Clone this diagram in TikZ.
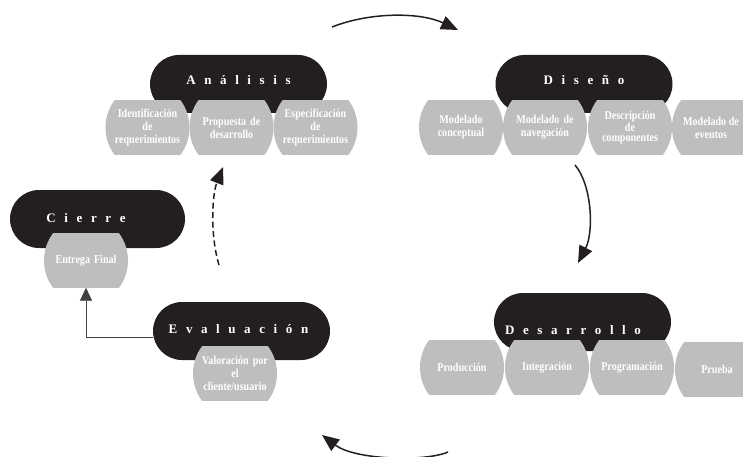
\documentclass[tikz,border=0pt]{standalone}
\usepackage{fontspec}
\setmainfont{Liberation Serif}
\newfontfamily\condfont{Liberation Serif}[FakeStretch=0.84]
\usetikzlibrary{arrows.meta}
\definecolor{ink}{RGB}{35,31,32}
\definecolor{pill}{RGB}{190,190,190}
\newcommand{\gp}{\hspace{8.6pt}}
\begin{document}
\begin{tikzpicture}[x=1pt,y=-1pt,
  phase/.style={fill=ink, rounded corners=29pt, minimum width=177pt, minimum height=58pt, inner sep=0pt},
  phasetext/.style={text=white, font=\bfseries\fontsize{13}{14}\selectfont, inner sep=0pt},
  task/.style={minimum width=84pt, minimum height=54pt, inner sep=0pt, text width=82pt, align=center,
    text=white, font=\condfont\bfseries\fontsize{12}{13}\selectfont,
    path picture={\fill[pill] (path picture bounding box.center) ellipse (42pt and 44pt);}},
  flow/.style={line width=1.5pt, ink, -{Triangle[length=17pt,width=14pt]}},
  link/.style={line width=0.8pt, black!75, -{Triangle[length=13pt,width=12pt]}}
]
\useasboundingbox (0,0) rectangle (743,457);

% Analisis
\node[phase] (analisis) at (238.5,84) {};
\node[phasetext] (analisisT) at (238.5,80) {A\gp n\gp á\gp l\gp i\gp s\gp i\gp s};
\node[task] (a1) at (147.5,127.5) {Identificación\\de\\requerimientos};
\node[task] (a2) at (231.5,127.5) {Propuesta de\\desarrollo};
\node[task] (a3) at (315.5,127.5) {Especificación\\de\\requerimientos};

% Diseno
\node[phase] (diseno) at (584,84) {};
\node[phasetext] (disenoT) at (584,80) {D\gp i\gp s\gp e\gp ñ\gp o};
\node[task] (d1) at (461,127.5) {Modelado\\conceptual};
\node[task] (d2) at (545,127.5) {Modelado de\\navegación};
\node[task, font=\condfont\bfseries\fontsize{12}{10.5}\selectfont] (d3) at (630,127.5) {Descripción\\de\\componentes};
\node[task] (d4) at (714,127.5) {};
\node[text=white, font=\condfont\bfseries\fontsize{12}{13}\selectfont, align=center, inner sep=0pt] (d4T) at (d4.center) [xshift=-3pt] {Modelado de\\eventos};

% Desarrollo
\node[phase] (desarrollo) at (582.5,322) {};
\node[phasetext] (desarrolloT) at (573,330) {D\gp e\gp s\gp a\gp r\gp r\gp o\gp l\gp l\gp o};
\node[task] (r1) at (462,367.5) {Producción};
\node[task] (r2) at (547,367.5) {Integración};
\node[task] (r3) at (632,367.5) {Programación};
\node[task] (r4) at (717,369.5) {Prueba};

% Evaluacion
\node[phase] (evaluacion) at (241.5,331) {};
\node[phasetext] (evaluacionT) at (238.5,329) {E\gp v\gp a\gp l\gp u\gp a\gp c\gp i\gp ó\gp n};
\node[task] (e1) at (235,373.5) {Valoración por\\el\\cliente/usuario};

% Cierre
\node[phase, minimum width=175pt] (cierre) at (97.5,219) {};
\node[phasetext] (cierreT) at (86,218) {C\gp i\gp e\gp r\gp r\gp e};
\node[task] (c1) at (86,260.5) {Entrega Final};

% cycle arrows
\coordinate (t1) at (332,27);
\coordinate (t2) at (458,30);
\draw[flow] (t1) .. controls (370,12) and (420,12) .. (t2);
\coordinate (s1) at (575,165);
\coordinate (s2) at (578,263);
\draw[flow] (s1) .. controls (592,185) and (594,232) .. (s2);
\coordinate (b1) at (448,452);
\coordinate (b2) at (322,435);
\draw[flow] (b1) .. controls (425,462) and (355,460) .. (b2);
\coordinate (l1) at (219,265);
\coordinate (l2) at (223,167);
\draw[flow, dash pattern=on 6pt off 3.5pt] (l1) .. controls (210,235) and (212,195) .. (l2);

% Evaluacion -> Entrega Final
\draw[link] ([yshift=-6pt]evaluacion.west) -| (c1.south);
\end{tikzpicture}
\end{document}
